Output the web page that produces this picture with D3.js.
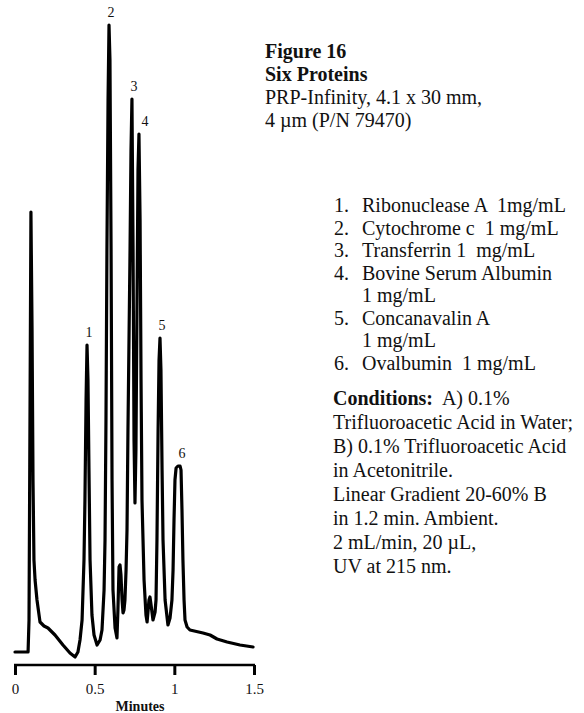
<!DOCTYPE html>
<html>
<head>
<meta charset="utf-8">
<script src="https://cdn.jsdelivr.net/npm/d3@7"></script>
<style>
  html, body { margin: 0; padding: 0; background: #fff; }
  svg text { font-family: "Liberation Serif", "Times New Roman", serif; fill: #111; white-space: pre; }
</style>
</head>
<body>
<svg id="chart" width="584" height="713"></svg>
<script>
// ---- data ----
const times = [0.000,0.082,0.088,0.094,0.100,0.107,0.113,0.119,0.126,0.138,0.157,0.182,0.207,0.251,0.301,0.345,0.377,0.395,0.408,0.421,0.433,0.439,0.446,0.452,0.458,0.465,0.471,0.483,0.496,0.515,0.534,0.546,0.559,0.565,0.571,0.577,0.584,0.590,0.596,0.603,0.609,0.615,0.628,0.640,0.646,0.653,0.659,0.665,0.672,0.678,0.684,0.690,0.697,0.703,0.709,0.722,0.728,0.734,0.741,0.747,0.753,0.759,0.766,0.772,0.778,0.785,0.791,0.797,0.810,0.822,0.829,0.841,0.847,0.854,0.866,0.879,0.885,0.891,0.898,0.904,0.910,0.916,0.923,0.929,0.942,0.960,0.973,0.985,0.992,0.998,1.004,1.011,1.023,1.036,1.042,1.048,1.054,1.061,1.067,1.080,1.098,1.180,1.224,1.268,1.331,1.412,1.494];
const response = [0,0,32,232,440,322,172,92,72,52,30,26,24,17,7,-1,-5,0,12,32,92,152,252,307,272,172,92,37,17,7,12,22,62,112,232,402,552,627,592,402,172,62,24,14,42,85,87,77,52,39,42,52,82,122,222,402,502,553,402,212,149,202,352,482,518,432,272,152,72,37,30,52,55,47,32,40,52,112,222,292,314,282,182,112,52,27,34,52,82,132,172,184,186,186,182,142,92,52,32,25,22,19,17,13,10,7,5];
const peakLabels = ["1","2","3","4","5","6"];
const peakTimes = [0.452,0.590,0.734,0.778,0.910,1.030];
const tickValues = [0,0.5,1,1.5];
const tickLabels = ["0","0.5","1","1.5"];
const axisTitle = "Minutes";
const titleLines = ["Figure 16","Six Proteins"];
const columnLines = ["PRP-Infinity, 4.1 x 30 mm,","4 µm (P/N 79470)"];
const sampleNumbers = ["1.","2.","3.","4.","","5.","","6."];
const sampleTexts = ["Ribonuclease A  1mg/mL","Cytochrome c  1 mg/mL","Transferrin 1  mg/mL","Bovine Serum Albumin","1 mg/mL","Concanavalin A","1 mg/mL","Ovalbumin  1 mg/mL"];
const conditionsHead = "Conditions:";
const conditionLines = [" A) 0.1%","Trifluoroacetic Acid in Water;","B) 0.1% Trifluoroacetic Acid","in Acetonitrile.","Linear Gradient 20-60% B","in 1.2 min. Ambient.","2 mL/min, 20 µL,","UV at 215 nm."];

// ---- drawing ----
const svg = d3.select("#chart");
const x = d3.scaleLinear().domain([0, 1.5]).range([15, 254]);
const y = d3.scaleLinear().domain([0, 640]).range([652, 12]);

const pts = times.map((t, i) => [t, response[i]]);
const line = d3.line().x(d => x(d[0])).y(d => y(d[1])).curve(d3.curveLinear);

svg.append("path")
  .attr("d", line(pts))
  .attr("fill", "none")
  .attr("stroke", "#000")
  .attr("stroke-width", 3.2)
  .attr("stroke-linejoin", "round")
  .attr("stroke-linecap", "round");

// peak labels
peakLabels.forEach((lab, i) => {
  const t = peakTimes[i];
  let best = 0;
  times.forEach((tt, j) => { if (Math.abs(tt - t) < 0.012 && response[j] > best) best = response[j]; });
  const dx = lab === "4" ? 6 : (lab === "6" ? 3 : 2);
  svg.append("text")
    .attr("x", x(t) + dx)
    .attr("y", y(best) - 8)
    .attr("text-anchor", "middle")
    .attr("font-size", 14)
    .text(lab);
});

// axis
const axisG = svg.append("g").attr("transform", "translate(0,665)");
const axis = d3.axisBottom(x).tickValues(tickValues).tickSize(10).tickPadding(8)
  .tickFormat((d, i) => tickLabels[i]);
axisG.call(axis);
axisG.select(".domain").attr("d", `M${x(0)-1},0H${x(1.5)+1}`).attr("stroke", "#000").attr("stroke-width", 2.6);
axisG.selectAll(".tick line").attr("stroke", "#000").attr("stroke-width", 3);
axisG.selectAll(".tick text")
  .attr("font-family", "Liberation Serif, serif")
  .attr("font-size", 15)
  .attr("fill", "#111");

svg.append("text")
  .attr("x", 140).attr("y", 711)
  .attr("text-anchor", "middle")
  .attr("font-size", 14).attr("font-weight", "bold")
  .text(axisTitle);

// right text column
const fs = 20;
titleLines.forEach((s, i) => {
  svg.append("text").attr("x", 265).attr("y", 58 + i * 23)
    .attr("font-size", fs).attr("font-weight", "bold").text(s);
});
columnLines.forEach((s, i) => {
  svg.append("text").attr("x", 265).attr("y", 104 + i * 23)
    .attr("font-size", fs).text(s);
});
sampleTexts.forEach((s, i) => {
  const yy = 212 + i * 22.5;
  if (sampleNumbers[i]) svg.append("text").attr("x", 334).attr("y", yy).attr("font-size", fs).text(sampleNumbers[i]);
  svg.append("text").attr("x", 362).attr("y", yy).attr("font-size", fs).text(s);
});
conditionLines.forEach((s, i) => {
  const t = svg.append("text").attr("x", 333).attr("y", 405 + i * 24).attr("font-size", fs);
  if (i === 0) {
    t.append("tspan").attr("font-weight", "bold").text(conditionsHead);
    t.append("tspan").text(" " + s);
  } else {
    t.text(s);
  }
});
</script>
</body>
</html>
